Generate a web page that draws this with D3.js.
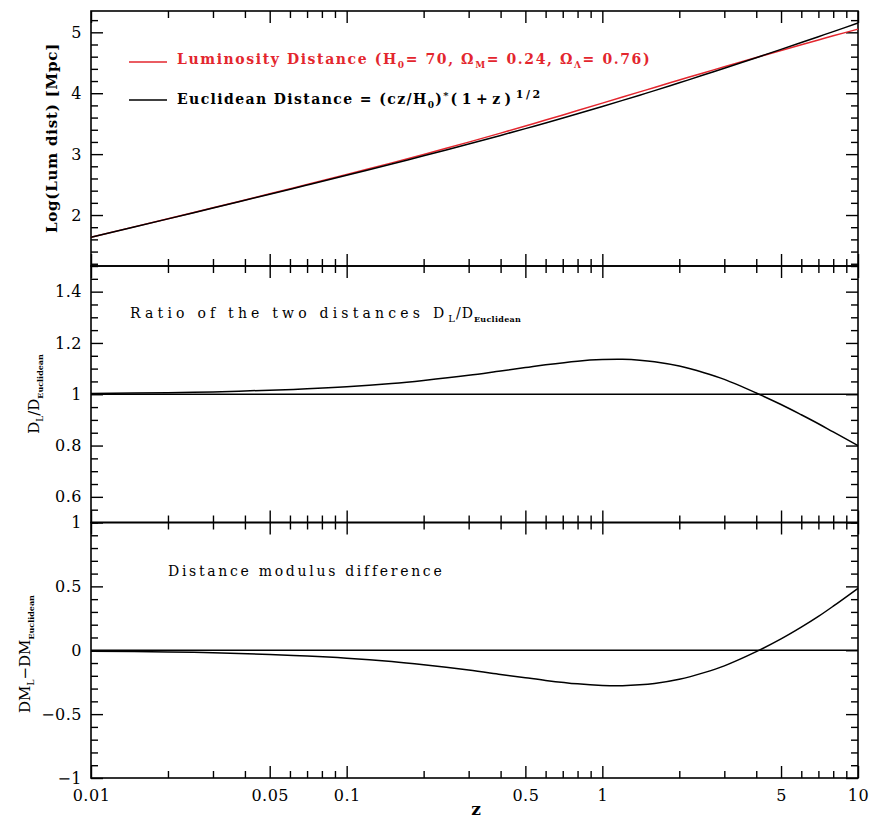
<!DOCTYPE html>
<html>
<head>
<meta charset="utf-8">
<script src="https://cdn.jsdelivr.net/npm/d3@7"></script>
<style>
  html, body { margin: 0; padding: 0; background: #fff; }
  svg text { font-family: "DejaVu Serif", "Liberation Serif", serif; fill: #000; }
</style>
</head>
<body>
<svg id="chart" width="871" height="820"></svg>
<script>
// ---- data ----
const redshift = [0.01, 0.02, 0.03, 0.05, 0.07, 0.1, 0.15, 0.2, 0.3, 0.4, 0.5, 0.6, 0.8, 1.0, 1.2, 1.4, 1.6, 2.0, 2.5, 3, 4, 5, 6, 7, 8, 10];
const logLumDist = [1.635, 1.940, 2.119, 2.348, 2.500, 2.665, 2.856, 2.995, 3.197, 3.345, 3.462, 3.559, 3.715, 3.837, 3.938, 4.022, 4.095, 4.217, 4.337, 4.434, 4.586, 4.702, 4.796, 4.875, 4.943, 5.052];
const logEucDist = [1.634, 1.937, 2.115, 2.341, 2.492, 2.652, 2.838, 2.972, 3.166, 3.307, 3.419, 3.512, 3.662, 3.782, 3.882, 3.968, 4.043, 4.171, 4.302, 4.410, 4.583, 4.720, 4.832, 4.928, 5.012, 5.152];
const distRatio = [1.003, 1.006, 1.009, 1.016, 1.021, 1.029, 1.042, 1.054, 1.074, 1.091, 1.104, 1.115, 1.129, 1.135, 1.136, 1.133, 1.127, 1.110, 1.084, 1.058, 1.005, 0.960, 0.920, 0.885, 0.853, 0.800];
const dmDiff = [-0.007, -0.013, -0.019, -0.034, -0.045, -0.062, -0.089, -0.114, -0.155, -0.189, -0.215, -0.236, -0.263, -0.275, -0.277, -0.271, -0.260, -0.227, -0.175, -0.122, -0.011, 0.089, 0.181, 0.265, 0.345, 0.485];

const xTickLabels = [0.01, 0.05, 0.1, 0.5, 1, 5, 10];
const topYTicks = [2, 3, 4, 5];
const midYTicks = [0.6, 0.8, 1, 1.2, 1.4];
const botYTicks = [-1, -0.5, 0, 0.5, 1];

// ---- layout ----
const svg = d3.select("#chart");
const L = 91, R = 858;
const panels = [
  { top: 11, bottom: 266, domain: [1.163, 5.35], major: topYTicks, minorStep: 0.2, labels: topYTicks },
  { top: 266, bottom: 522.5, domain: [0.5, 1.5], major: [0.6, 0.8, 1.0, 1.2, 1.4], minorStep: 0.05, labels: midYTicks },
  { top: 522.5, bottom: 778, domain: [-1, 1], major: [-1, -0.5, 0, 0.5, 1], minorStep: 0.1, labels: botYTicks }
];

const x = d3.scaleLog().domain([0.01, 10]).range([L, R]);

// x ticks: every integer multiple within each decade; major at 1 and 5
const xAll = [];
[0.01, 0.1, 1].forEach(d => { for (let k = 1; k <= 9; k++) xAll.push(+(k * d).toPrecision(3)); });
xAll.push(10);
const xMajor = xAll.filter(v => { const m = v / Math.pow(10, Math.floor(Math.log10(v) + 1e-9)); return Math.abs(m - 1) < 1e-6 || Math.abs(m - 5) < 1e-6; });
const xMinor = xAll.filter(v => !xMajor.includes(v));

const fmt = v => String(v).replace("-", "\u2212");

panels.forEach((p, i) => {
  const y = d3.scaleLinear().domain(p.domain).range([p.bottom, p.top]);
  p.y = y;
  const g = svg.append("g");
  const h = p.bottom - p.top;

  const minor = [];
  const start = Math.ceil(p.domain[0] / p.minorStep - 1e-6);
  const end = Math.floor(p.domain[1] / p.minorStep + 1e-6);
  for (let k = start; k <= end; k++) minor.push(+(k * p.minorStep).toFixed(4));
  const minorOnly = minor.filter(v => !p.major.some(m => Math.abs(m - v) < 1e-6));

  const tickStyle = sel => { sel.select(".domain").remove(); sel.selectAll("line").attr("stroke", "#000").attr("stroke-width", 1.4); };

  g.append("g").attr("transform", `translate(${L},0)`)
    .call(d3.axisLeft(y).tickValues(minorOnly).tickSize(-7).tickFormat("")).call(tickStyle);
  g.append("g").attr("transform", `translate(${L},0)`)
    .call(d3.axisLeft(y).tickValues(p.major).tickSize(-12).tickFormat("")).call(tickStyle);
  g.append("g").attr("transform", `translate(${R},0)`)
    .call(d3.axisRight(y).tickValues(minorOnly).tickSize(-7).tickFormat("")).call(tickStyle);
  g.append("g").attr("transform", `translate(${R},0)`)
    .call(d3.axisRight(y).tickValues(p.major).tickSize(-12).tickFormat("")).call(tickStyle);

  const lab = g.append("g").attr("transform", `translate(${L},0)`)
    .call(d3.axisLeft(y).tickValues(p.labels).tickSize(0).tickPadding(9).tickFormat(fmt));
  lab.select(".domain").remove();
  lab.selectAll("text").attr("font-size", 16).attr("font-family", "DejaVu Serif").attr("letter-spacing", 0.5);

  g.append("g").attr("transform", `translate(0,${p.bottom})`)
    .call(d3.axisBottom(x).tickValues(xMinor).tickSize(-7).tickFormat("")).call(tickStyle);
  g.append("g").attr("transform", `translate(0,${p.bottom})`)
    .call(d3.axisBottom(x).tickValues(xMajor).tickSize(-12).tickFormat("")).call(tickStyle);
  g.append("g").attr("transform", `translate(0,${p.top})`)
    .call(d3.axisTop(x).tickValues(xMinor).tickSize(-7).tickFormat("")).call(tickStyle);
  g.append("g").attr("transform", `translate(0,${p.top})`)
    .call(d3.axisTop(x).tickValues(xMajor).tickSize(-12).tickFormat("")).call(tickStyle);

  g.append("rect").attr("x", L).attr("y", p.top).attr("width", R - L).attr("height", h)
    .attr("fill", "none").attr("stroke", "#000").attr("stroke-width", 1.6);
});

// x labels at bottom
const xl = svg.append("g").attr("transform", `translate(0,778)`)
  .call(d3.axisBottom(x).tickValues(xTickLabels).tickSize(0).tickPadding(12).tickFormat(d => String(d)));
xl.select(".domain").remove();
xl.selectAll("text").attr("font-size", 16).attr("font-family", "DejaVu Serif").attr("letter-spacing", 0.5);

svg.append("text").attr("x", 476).attr("y", 815).attr("text-anchor", "middle")
  .attr("font-size", 17).attr("font-weight", "bold").text("z");

// ---- curves ----
const idx = d3.range(redshift.length);
const curve = d3.curveCatmullRom.alpha(0.5);
const [pTop, pMid, pBot] = panels;

const lineTopLum = d3.line().x(i => x(redshift[i])).y(i => pTop.y(logLumDist[i])).curve(curve);
const lineTopEuc = d3.line().x(i => x(redshift[i])).y(i => pTop.y(logEucDist[i])).curve(curve);
const lineRatio = d3.line().x(i => x(redshift[i])).y(i => pMid.y(distRatio[i])).curve(curve);
const lineDM = d3.line().x(i => x(redshift[i])).y(i => pBot.y(dmDiff[i])).curve(curve);

const red = "#e3262e";
svg.append("path").attr("d", lineTopLum(idx)).attr("fill", "none").attr("stroke", red).attr("stroke-width", 1.5);
svg.append("path").attr("d", lineTopEuc(idx)).attr("fill", "none").attr("stroke", "#000").attr("stroke-width", 1.5);

svg.append("line").attr("x1", L).attr("x2", R).attr("y1", pMid.y(1)).attr("y2", pMid.y(1)).attr("stroke", "#000").attr("stroke-width", 1.5);
svg.append("line").attr("x1", L).attr("x2", R).attr("y1", pBot.y(0)).attr("y2", pBot.y(0)).attr("stroke", "#000").attr("stroke-width", 1.5);

svg.append("path").attr("d", lineRatio(idx)).attr("fill", "none").attr("stroke", "#000").attr("stroke-width", 1.5);
svg.append("path").attr("d", lineDM(idx)).attr("fill", "none").attr("stroke", "#000").attr("stroke-width", 1.5);

// ---- legend ----
svg.append("line").attr("x1", 129).attr("x2", 167).attr("y1", 62).attr("y2", 62).attr("stroke", red).attr("stroke-width", 1.5);
svg.append("line").attr("x1", 129).attr("x2", 167).attr("y1", 100).attr("y2", 100).attr("stroke", "#000").attr("stroke-width", 1.5);

const t1 = svg.append("text").attr("x", 177).attr("y", 64).attr("font-size", 14).attr("font-weight", "bold")
  .attr("letter-spacing", 1.6).style("fill", red);
t1.append("tspan").text("Luminosity Distance (H");
t1.append("tspan").attr("font-size", 9).attr("dy", 4).text("0");
t1.append("tspan").attr("dy", -4).text("= 70, \u03A9");
t1.append("tspan").attr("font-size", 9).attr("dy", 4).text("M");
t1.append("tspan").attr("dy", -4).text("= 0.24, \u03A9");
t1.append("tspan").attr("font-size", 9).attr("dy", 4).text("\u039B");
t1.append("tspan").attr("dy", -4).text("= 0.76)");

const t2 = svg.append("text").attr("x", 177).attr("y", 104).attr("font-size", 14).attr("font-weight", "bold")
  .attr("letter-spacing", 1.4);
t2.append("tspan").text("Euclidean Distance = (cz/H");
t2.append("tspan").attr("font-size", 9).attr("dy", 4).text("0");
t2.append("tspan").attr("dy", -4).text(")");
t2.append("tspan").attr("font-size", 10).attr("dy", -5).attr("letter-spacing", 2).text("*");
t2.append("tspan").attr("dy", 5).attr("letter-spacing", 4.5).text("(1+z)");
t2.append("tspan").attr("font-size", 11).attr("letter-spacing", 2.5).attr("dy", -6).text("1/2");

// ---- panel annotations ----
const t3 = svg.append("text").attr("x", 130).attr("y", 318).attr("font-size", 14).attr("letter-spacing", 4.2);
t3.append("tspan").text("Ratio of the two distances D");
t3.append("tspan").attr("font-size", 10).attr("letter-spacing", 1).attr("dy", 4).text("L");
t3.append("tspan").attr("dy", -4).attr("letter-spacing", 1).text("/D");
t3.append("tspan").attr("font-size", 8).attr("font-weight", "bold").attr("letter-spacing", 0.3).attr("dy", 4).text("Euclidean");

svg.append("text").attr("x", 168).attr("y", 576).attr("font-size", 14).attr("letter-spacing", 2.7)
  .text("Distance modulus difference");

// ---- y-axis titles ----
svg.append("text").attr("transform", "translate(57,138) rotate(-90)").attr("text-anchor", "middle")
  .attr("font-size", 15).attr("font-weight", "bold").attr("letter-spacing", 0.8).text("Log(Lum dist) [Mpc]");

const ym = svg.append("text").attr("transform", "translate(39,394) rotate(-90)").attr("text-anchor", "middle")
  .attr("font-size", 15);
ym.append("tspan").text("D");
ym.append("tspan").attr("font-size", 9).attr("dy", 4).text("L");
ym.append("tspan").attr("dy", -4).text("/D");
ym.append("tspan").attr("font-size", 8).attr("font-weight", "bold").attr("dy", 4).text("Euclidean");

const yb = svg.append("text").attr("transform", "translate(30,654) rotate(-90)").attr("text-anchor", "middle")
  .attr("font-size", 15);
yb.append("tspan").text("DM");
yb.append("tspan").attr("font-size", 9).attr("dy", 4).text("L");
yb.append("tspan").attr("dy", -4).text("\u2212DM");
yb.append("tspan").attr("font-size", 8).attr("font-weight", "bold").attr("dy", 4).text("Euclidean");
</script>
</body>
</html>
